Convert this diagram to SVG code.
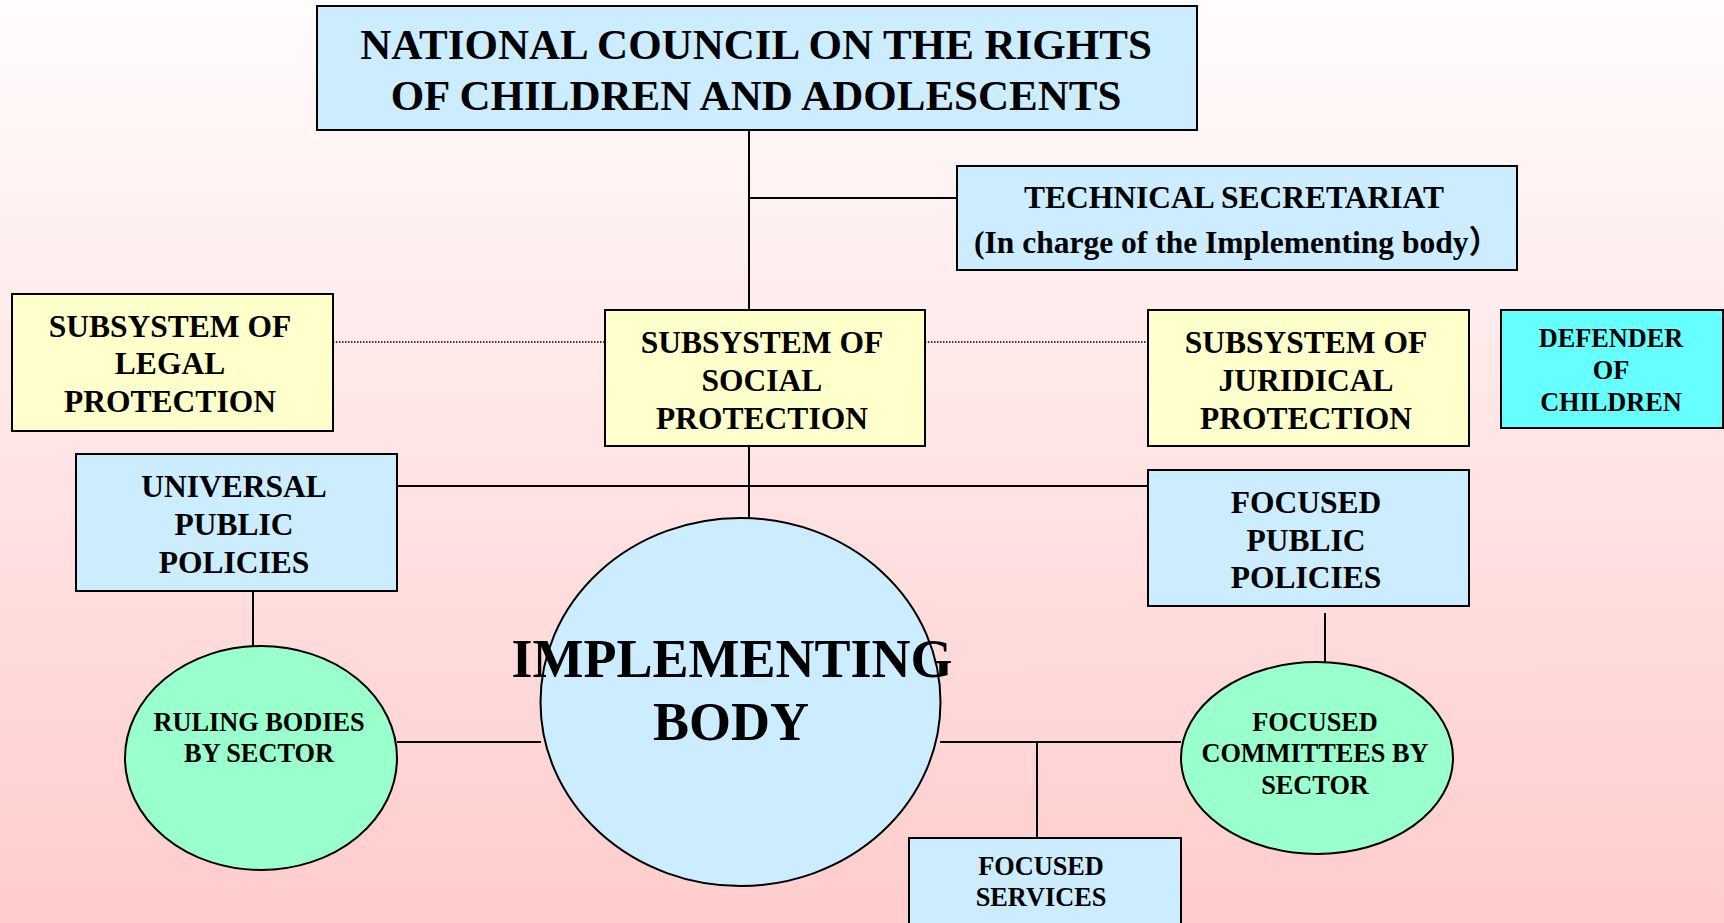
<svg xmlns="http://www.w3.org/2000/svg" width="1724" height="923" viewBox="0 0 1724 923">
  <defs>
    <linearGradient id="bg" x1="0" y1="0" x2="0" y2="1">
      <stop offset="0" stop-color="#FFFCFC"/>
      <stop offset="1" stop-color="#FFCCCC"/>
    </linearGradient>
    <style>
      .box { stroke: #000; stroke-width: 2; }
      .blue { fill: #CCECFF; }
      .yellow { fill: #FFFFCC; }
      .green { fill: #99FFCC; }
      .cyan { fill: #66FFFF; }
      .ln { stroke: #000; stroke-width: 2; fill: none; }
      .dot { stroke: #000; stroke-width: 1.5; stroke-dasharray: 1.5 1.5; fill: none; }
      text { font-family: "Liberation Serif", "Times New Roman", serif; font-weight: bold; fill: #000; text-anchor: middle; }
      .t42 { font-size: 43px; }
      .t31 { font-size: 31.5px; }
      .t26 { font-size: 26.3px; }
      .t54 { font-size: 54px; }
    </style>
  </defs>
  <rect x="0" y="0" width="1724" height="923" fill="url(#bg)"/>

  <g id="connectors">
    <line class="ln" x1="749" y1="130" x2="749" y2="310"/>
    <line class="ln" x1="749" y1="198" x2="957" y2="198"/>
    <line class="dot" x1="333" y1="342" x2="605" y2="342"/>
    <line class="dot" x1="925" y1="342" x2="1148" y2="342"/>
    <line class="ln" x1="749" y1="446" x2="749" y2="518"/>
    <line class="ln" x1="397" y1="486" x2="1148" y2="486"/>
    <line class="ln" x1="253" y1="591" x2="253" y2="646"/>
    <line class="ln" x1="1325" y1="613" x2="1325" y2="662"/>
    <line class="ln" x1="397" y1="742" x2="541" y2="742"/>
    <line class="ln" x1="940" y1="742" x2="1181" y2="742"/>
    <line class="ln" x1="1037" y1="742" x2="1037" y2="838"/>
  </g>

  <g id="national-council">
    <rect class="box blue" x="317" y="6" width="880" height="124"/>
    <text class="t42" x="756" y="59">NATIONAL COUNCIL ON THE RIGHTS</text>
    <text class="t42" x="756" y="110">OF CHILDREN AND ADOLESCENTS</text>
  </g>

  <g id="technical-secretariat">
    <rect class="box blue" x="957" y="166" width="560" height="104"/>
    <text class="t31" x="1234" y="208">TECHNICAL SECRETARIAT</text>
    <text class="t31" x="1237" y="253" style="font-family: 'Liberation Serif', 'Noto Sans CJK SC', serif">(In charge of the Implementing body）</text>
  </g>

  <g id="legal-protection">
    <rect class="box yellow" x="12" y="294" width="321" height="137"/>
    <text class="t31" x="170" y="337">SUBSYSTEM OF</text>
    <text class="t31" x="170" y="374">LEGAL</text>
    <text class="t31" x="170" y="412">PROTECTION</text>
  </g>

  <g id="social-protection">
    <rect class="box yellow" x="605" y="310" width="320" height="136"/>
    <text class="t31" x="762" y="353">SUBSYSTEM OF</text>
    <text class="t31" x="762" y="391">SOCIAL</text>
    <text class="t31" x="762" y="429">PROTECTION</text>
  </g>

  <g id="juridical-protection">
    <rect class="box yellow" x="1148" y="310" width="321" height="136"/>
    <text class="t31" x="1306" y="353">SUBSYSTEM OF</text>
    <text class="t31" x="1306" y="391">JURIDICAL</text>
    <text class="t31" x="1306" y="429">PROTECTION</text>
  </g>

  <g id="defender">
    <rect class="box cyan" x="1501" y="310" width="222" height="118"/>
    <text class="t26" x="1611" y="347">DEFENDER</text>
    <text class="t26" x="1611" y="379">OF</text>
    <text class="t26" x="1611" y="411">CHILDREN</text>
  </g>

  <g id="universal-policies">
    <rect class="box blue" x="76" y="454" width="321" height="137"/>
    <text class="t31" x="234" y="497">UNIVERSAL</text>
    <text class="t31" x="234" y="535">PUBLIC</text>
    <text class="t31" x="234" y="573">POLICIES</text>
  </g>

  <g id="focused-policies">
    <rect class="box blue" x="1148" y="470" width="321" height="136"/>
    <text class="t31" x="1306" y="513">FOCUSED</text>
    <text class="t31" x="1306" y="551">PUBLIC</text>
    <text class="t31" x="1306" y="588">POLICIES</text>
  </g>

  <g id="implementing-body">
    <ellipse class="box blue" cx="740.5" cy="702" rx="200" ry="184"/>
    <text class="t54" x="732" y="677">IMPLEMENTING</text>
    <text class="t54" x="731" y="740">BODY</text>
  </g>

  <g id="ruling-bodies">
    <ellipse class="box green" cx="261" cy="758" rx="136" ry="112"/>
    <text class="t26" x="259" y="731">RULING BODIES</text>
    <text class="t26" x="259" y="762">BY SECTOR</text>
  </g>

  <g id="focused-committees">
    <ellipse class="box green" cx="1317" cy="758" rx="136" ry="96"/>
    <text class="t26" x="1315" y="731">FOCUSED</text>
    <text class="t26" x="1315" y="762">COMMITTEES BY</text>
    <text class="t26" x="1315" y="794">SECTOR</text>
  </g>

  <g id="focused-services">
    <rect class="box blue" x="909" y="838" width="272" height="100"/>
    <text class="t26" x="1041" y="875">FOCUSED</text>
    <text class="t26" x="1041" y="906">SERVICES</text>
  </g>
</svg>
